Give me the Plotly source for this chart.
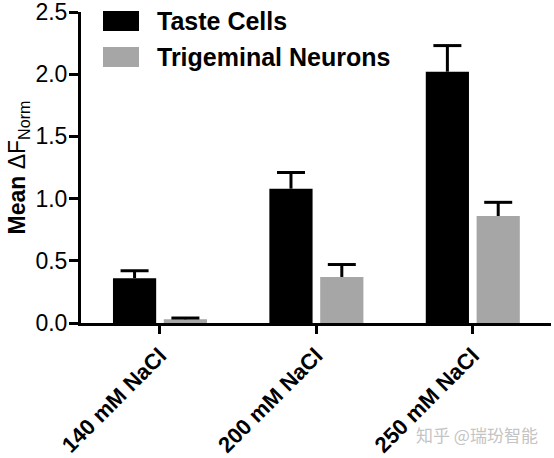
import plotly.graph_objects as go

# values
categories = ["140 mM NaCl", "200 mM NaCl", "250 mM NaCl"]
series_names = ["Taste Cells", "Trigeminal Neurons"]
taste_mean = [0.36, 1.08, 2.02]
taste_err = [0.06, 0.13, 0.21]
trig_mean = [0.03, 0.37, 0.86]
trig_err = [0.01, 0.10, 0.11]
y_ticks = [0.0, 0.5, 1.0, 1.5, 2.0, 2.5]
watermark = "知乎 @瑞玢智能"

colors = ["#000000", "#a6a6a6"]
font = "Liberation Sans, Arial, sans-serif"

fig = go.Figure()
for name, mean, err, col in zip(series_names, [taste_mean, trig_mean],
                                [taste_err, trig_err], colors):
    fig.add_trace(go.Bar(
        x=categories, y=mean, name=name, marker_color=col,
        marker_line_width=0, offsetgroup=name,
    ))
for name, mean, err in zip(series_names, [taste_mean, trig_mean],
                           [taste_err, trig_err]):
    # upper-only error bar: stem drawn down to the bar top, cap as a marker
    tops = [m + e for m, e in zip(mean, err)]
    fig.add_trace(go.Scatter(
        x=categories, y=tops, mode="markers", offsetgroup=name,
        marker=dict(symbol="line-ew", size=20, color="black",
                    line=dict(width=3, color="black")),
        error_y=dict(type="data", array=[0] * len(err), arrayminus=err,
                     symmetric=False, color="black", thickness=3, width=0),
        hoverinfo="skip",
    ))

fig.update_layout(
    width=554, height=458,
    margin=dict(l=81, r=3, t=12, b=135),
    paper_bgcolor="white", plot_bgcolor="white",
    barmode="group", bargap=0.35, bargroupgap=0.15,
    scattermode="group", scattergap=0.35,
    showlegend=False,
    font=dict(family=font, color="black"),
)

fig.update_xaxes(
    range=[-0.505, 2.5], showline=True, linewidth=3, linecolor="black",
    ticks="outside", ticklen=8, tickwidth=3, tickcolor="black",
    tickangle=-45, tickfont=dict(size=22, weight="bold"),
    showgrid=False, zeroline=False, automargin=False,
)
fig.update_yaxes(
    range=[0, 2.5], tickvals=y_ticks, tickformat=".1f",
    showline=True, linewidth=3, linecolor="black",
    ticks="outside", ticklen=9, tickwidth=3, tickcolor="black",
    tickfont=dict(size=23), ticklabeloverflow="allow",
    ticklabelstandoff=-3,
    showgrid=False, zeroline=False, automargin=False,
    title=dict(text="<b>Mean</b> ΔF<sub>Norm</sub>", standoff=4,
               font=dict(size=23)),
)

# legend drawn by hand to get the large square swatches
for i, (name, col) in enumerate(zip(series_names, colors)):
    y_top = 11 + i * 36
    fig.add_shape(type="rect", xref="paper", yref="paper",
                  x0=(103 - 81) / 470, x1=(139 - 81) / 470,
                  y0=1 - (y_top + 20 - 12) / 311, y1=1 - (y_top - 12) / 311,
                  fillcolor=col, line_width=0)
    fig.add_annotation(text=name, xref="paper", yref="paper",
                       x=(155 - 81) / 470, y=1 - (y_top + 10 - 12) / 311,
                       xanchor="left", yanchor="middle", showarrow=False,
                       font=dict(size=25, weight="bold", color="black"))

fig.add_annotation(text=watermark, xref="paper", yref="paper",
                   x=(540 - 81) / 470, y=-(434 - 323) / 311,
                   xanchor="right", yanchor="middle", showarrow=False,
                   font=dict(size=17, color="#c4c4c4",
                             family="Noto Sans CJK SC"))

# drop the browser's default body margin so the figure sits at (0, 0)
fig.write_html("out.html", config={"displayModeBar": False},
               post_script="document.body.style.margin='0';")
